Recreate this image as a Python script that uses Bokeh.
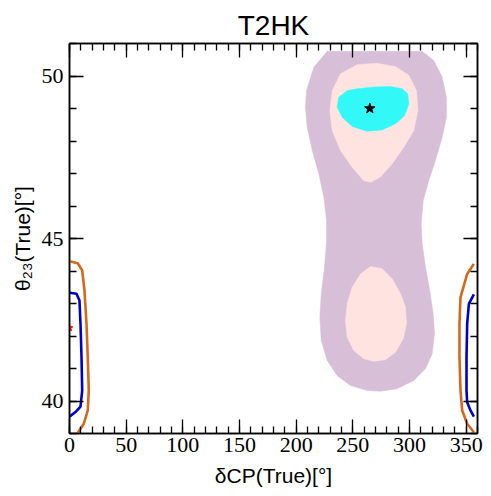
from bokeh.plotting import figure
from bokeh.models import LinearAxis, SingleIntervalTicker, CustomJSTickFormatter
from bokeh.embed import file_html
from bokeh.resources import INLINE

# ---- data ----
# 3 sigma (purple) allowed region
purple_x = [227.4, 215.6, 209.1, 208.2, 209.7, 214.2, 220.0, 224.4, 226.8, 226.8, 225.0, 222.1,
            220.9, 222.1, 227.4, 236.2, 247.9, 262.7, 274.4, 289.1, 303.8, 314.1, 320.0, 322.1,
            320.9, 317.9, 314.1, 311.2, 310.3, 312.1, 317.0, 322.9, 328.9, 332.6, 332.6, 328.9,
            321.4, 311.2]
purple_y = [50.76, 50.27, 49.55, 49.04, 48.42, 47.71, 46.99, 46.27, 45.55, 44.94, 44.12, 43.30,
            42.58, 41.86, 41.25, 40.78, 40.48, 40.32, 40.30, 40.38, 40.63, 40.99, 41.45, 42.07,
            42.68, 43.40, 44.12, 44.84, 45.45, 46.17, 46.78, 47.40, 48.12, 48.73, 49.35, 49.96,
            50.48, 50.76]
# 2 sigma (pink) regions
pink_up_x = [253.8, 239.1, 231.8, 229.7, 231.8, 239.1, 249.4, 259.7, 265.6, 274.4, 284.7, 295.0,
             303.8, 307.4, 306.2, 299.4, 287.6, 271.5]
pink_up_y = [50.35, 50.07, 49.55, 48.94, 48.32, 47.71, 47.19, 46.78, 46.73, 46.89, 47.30, 47.81,
             48.32, 48.94, 49.55, 50.02, 50.29, 50.39]
pink_lo_x = [265.6, 256.8, 249.4, 245.0, 243.5, 245.0, 250.9, 259.7, 268.5, 278.8, 287.6, 294.4,
             297.4, 296.5, 292.1, 284.7, 275.9]
pink_lo_y = [44.14, 43.91, 43.50, 42.99, 42.48, 41.96, 41.55, 41.30, 41.22, 41.27, 41.50, 41.91,
             42.38, 42.89, 43.30, 43.76, 44.07]
# 1 sigma (cyan) region
cyan_x = [245.0, 237.6, 236.2, 240.6, 249.4, 262.7, 275.9, 287.6, 295.6, 299.4, 298.5, 293.6,
          283.2, 268.5, 253.8]
cyan_y = [49.55, 49.35, 49.04, 48.73, 48.45, 48.30, 48.34, 48.53, 48.78, 49.14, 49.45, 49.61,
          49.68, 49.66, 49.61]
# contour lines near delta_CP = 0 / 360
orange_l_x = [0.0, 7.3, 11.2, 13.2, 15.0, 16.1, 17.0, 16.1, 12.6, 6.8, 0.0]
orange_l_y = [44.30, 44.24, 44.02, 43.40, 42.38, 41.35, 40.32, 39.71, 39.30, 38.99, 38.90]
blue_l_x = [0.0, 6.2, 8.8, 9.7, 10.6, 11.2, 9.7, 5.3, 0.0]
blue_l_y = [43.33, 43.30, 43.09, 42.38, 41.35, 40.32, 39.83, 39.66, 39.52]
orange_r_x = [356.8, 350.9, 345.0, 344.1, 344.1, 345.0, 346.5, 350.9, 356.8]
orange_r_y = [44.22, 43.91, 43.19, 42.38, 41.35, 40.32, 39.71, 39.30, 39.04]
blue_r_x = [356.8, 352.4, 350.9, 350.3, 350.3, 350.9, 353.8, 356.8]
blue_r_y = [43.28, 42.99, 42.38, 41.35, 40.32, 39.96, 39.71, 39.52]
# best fit points
best_x = [265.0]
best_y = [49.0]
true_x = [0.0]
true_y = [42.25]

title_text = "T2HK"
x_label = "δCP(True)[°]"
y_label = "θ₂₃(True)[°]"

p = figure(width=491, height=496, x_range=(0, 360), y_range=(39, 51),
           output_backend="svg", toolbar_location=None, title=title_text,
           min_border_left=69, min_border_right=14, min_border_top=43, min_border_bottom=63)
p.background_fill_color = "white"
p.border_fill_color = "white"
p.outline_line_color = "black"
p.outline_line_width = 1.5
p.xgrid.visible = False
p.ygrid.visible = False

p.title.align = "center"
p.title.text_font = "Liberation Sans"
p.title.text_font_size = "28px"
p.title.text_font_style = "normal"
p.title.text_color = "black"
p.title.standoff = 5

xt = SingleIntervalTicker(interval=50, num_minor_ticks=5)
yt = SingleIntervalTicker(interval=5, num_minor_ticks=5)
p.xaxis.ticker = xt
p.yaxis.ticker = yt

def style(ax):
    ax.major_tick_in = 14
    ax.major_tick_out = 0
    ax.minor_tick_in = 7
    ax.minor_tick_out = 0
    ax.major_tick_line_color = "black"
    ax.minor_tick_line_color = "black"
    ax.major_tick_line_width = 1.3
    ax.minor_tick_line_width = 1.3
    ax.axis_line_color = "black"
    ax.axis_line_width = 1.5
    ax.major_label_text_font = "Liberation Serif"
    ax.major_label_text_font_size = "22px"
    ax.major_label_text_color = "black"

style(p.xaxis[0])
style(p.yaxis[0])
p.xaxis.major_label_standoff = 4
p.yaxis.major_label_standoff = 6

for ax, lbl in ((p.xaxis[0], x_label), (p.yaxis[0], y_label)):
    ax.axis_label = lbl
    ax.axis_label_text_font = "Liberation Sans"
    ax.axis_label_text_font_size = "21px"
    ax.axis_label_text_font_style = "normal"
    ax.axis_label_text_color = "black"
p.xaxis.axis_label_standoff = 9
p.yaxis.axis_label_standoff = 5

top_ax = LinearAxis(ticker=xt, formatter=CustomJSTickFormatter(code="return ''"))
right_ax = LinearAxis(ticker=yt, formatter=CustomJSTickFormatter(code="return ''"))
style(top_ax)
style(right_ax)
top_ax.major_label_standoff = 0
right_ax.major_label_standoff = 0
p.add_layout(top_ax, "above")
p.add_layout(right_ax, "right")

# regions
p.patch(purple_x, purple_y, fill_color="#d8bfd8", line_color="#d8bfd8", line_width=0.5)
p.patch(pink_up_x, pink_up_y, fill_color="#ffe3e0", line_color="#ffe3e0", line_width=0.5)
p.patch(pink_lo_x, pink_lo_y, fill_color="#ffe3e0", line_color="#ffe3e0", line_width=0.5)
p.patch(cyan_x, cyan_y, fill_color="#33f8f8", line_color="#33f8f8", line_width=0.5)

p.line(orange_l_x, orange_l_y, line_color="#d2691e", line_width=2.6)
p.line(orange_r_x, orange_r_y, line_color="#d2691e", line_width=2.6)
p.line(blue_l_x, blue_l_y, line_color="#0000cd", line_width=2.6)
p.line(blue_r_x, blue_r_y, line_color="#0000cd", line_width=2.6)

p.scatter(best_x, best_y, marker="star", size=11, fill_color="black", line_color="black")
p.scatter(true_x, true_y, marker="star", size=7, fill_color="red", line_color="red")

open("out.html", "w").write(file_html(p, INLINE))
